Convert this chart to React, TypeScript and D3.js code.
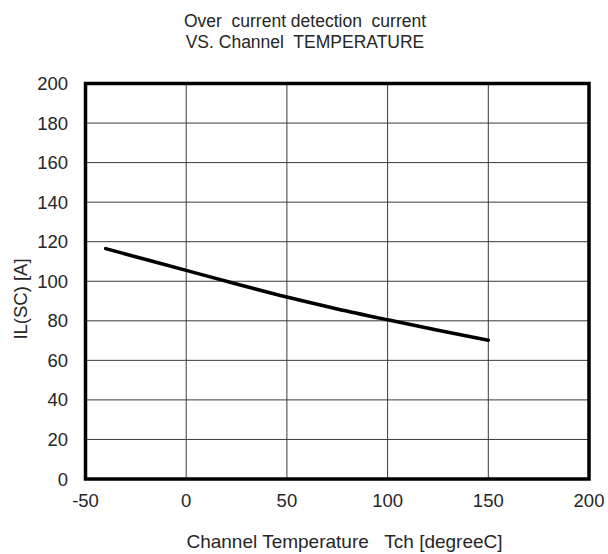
import React from "react";
import * as d3 from "d3";

const temps = [-40, -20, 0, 25, 50, 75, 100, 125, 150];
const currents = [116.5, 111, 105.5, 98.6, 92, 86, 80.5, 75.2, 70.2];
const xTicks = [-50, 0, 50, 100, 150, 200];
const yTicks = [0, 20, 40, 60, 80, 100, 120, 140, 160, 180, 200];
const titleLines = ["Over  current detection  current", "VS. Channel  TEMPERATURE"];
const xLabel = "Channel Temperature   Tch [degreeC]";
const yLabel = "IL(SC) [A]";

export default function App() {
  const W = 608, H = 554;
  const left = 85.5, right = 589, top = 83.5, bottom = 479;
  const x = d3.scaleLinear().domain([-50, 200]).range([left, right]);
  const y = d3.scaleLinear().domain([0, 200]).range([bottom, top]);
  const pts = temps.map((t, i) => [t, currents[i]] as [number, number]);
  const line = d3.line<[number, number]>().x(d => x(d[0])).y(d => y(d[1])).curve(d3.curveMonotoneX);
  const font = "'Liberation Sans', Arial, sans-serif";
  const fc = "#262626";
  return (
    <svg width={W} height={H} style={{ position: "absolute", left: 0, top: 0, background: "#fff" }} fontFamily={font}>
      <rect x={0} y={0} width={W} height={H} fill="#fff" />
      {titleLines.map((t, i) => (
        <text key={i} x={305} y={27 + i * 20.5} textAnchor="middle" fontSize={17.5} fill={fc} style={{ whiteSpace: "pre" }}>{t}</text>
      ))}
      {xTicks.map(t => (
        <line key={"gx" + t} x1={x(t)} x2={x(t)} y1={top} y2={bottom} stroke="#3a3a3a" strokeWidth={1} />
      ))}
      {yTicks.map(t => (
        <line key={"gy" + t} x1={left} x2={right} y1={y(t)} y2={y(t)} stroke="#3a3a3a" strokeWidth={1} />
      ))}
      <rect x={left} y={top} width={right - left} height={bottom - top} fill="none" stroke="#000" strokeWidth={3.5} />
      <path d={line(pts) || ""} fill="none" stroke="#000" strokeWidth={3.5} strokeLinecap="round" />
      {yTicks.map(t => (
        <text key={"ly" + t} x={68} y={y(t) + 6.5} textAnchor="end" fontSize={18.5} fill={fc}>{t}</text>
      ))}
      {xTicks.map(t => (
        <text key={"lx" + t} x={x(t)} y={506.5} textAnchor="middle" fontSize={18.5} fill={fc}>{t}</text>
      ))}
      <text x={344.5} y={548} textAnchor="middle" fontSize={19} fill={fc} style={{ whiteSpace: "pre" }}>{xLabel}</text>
      <text transform={`translate(26.5,${299}) rotate(-90)`} textAnchor="middle" fontSize={18.5} fill={fc} style={{ whiteSpace: "pre" }}>{yLabel}</text>
    </svg>
  );
}
